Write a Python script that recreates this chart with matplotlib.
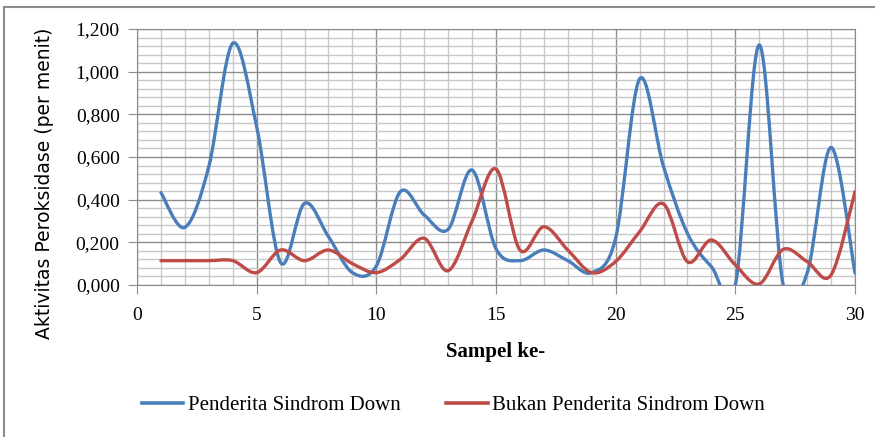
import numpy as np
import matplotlib.pyplot as plt
from matplotlib.path import Path
from matplotlib.patches import PathPatch
from matplotlib.lines import Line2D
from matplotlib.ticker import MultipleLocator, FuncFormatter

## data
sampel = list(range(1, 31))
penderita = [0.433, 0.270, 0.555, 1.133, 0.742, 0.105, 0.383, 0.227, 0.058, 0.089,
             0.437, 0.328, 0.261, 0.539, 0.170, 0.114, 0.164, 0.114, 0.058, 0.220,
             0.966, 0.555, 0.242, 0.086, 0.000, 1.125, 0.000, 0.056, 0.645, 0.056]
bukan = [0.114, 0.114, 0.114, 0.114, 0.058, 0.164, 0.114, 0.164, 0.100, 0.058,
         0.120, 0.219, 0.067, 0.300, 0.544, 0.164, 0.273, 0.164, 0.058, 0.110,
         0.250, 0.380, 0.109, 0.211, 0.094, 0.005, 0.167, 0.110, 0.047, 0.437]
labels = ['Penderita Sindrom Down', 'Bukan Penderita Sindrom Down']
colors = ['#4a7ebb', '#be4b48']


## garis halus ala excel (bezier)
def smooth_path(x, y):
    p = np.column_stack([x, y]).astype(float)
    n = len(p)
    verts = [p[0]]
    codes = [Path.MOVETO]
    for i in range(n - 1):
        p0 = p[i - 1] if i > 0 else p[i]
        p3 = p[i + 2] if i + 2 < n else p[i + 1]
        c1 = p[i] + (p[i + 1] - p0) / 6.0
        c2 = p[i + 1] - (p3 - p[i]) / 6.0
        verts += [c1, c2, p[i + 1]]
        codes += [Path.CURVE4] * 3
    return Path(verts, codes)


fig = plt.figure(figsize=(8.75, 4.37), dpi=100)
ax = fig.add_axes([137 / 875, 1 - 285 / 437, (855 - 137) / 875, (285 - 29) / 437])

for ys, c in zip([penderita, bukan], colors):
    ax.add_patch(PathPatch(smooth_path(sampel, ys), fill=False, edgecolor=c,
                           lw=2.4, capstyle='round', joinstyle='round', zorder=3))

ax.set_xlim(0, 30)
ax.set_ylim(0, 1.2)
ax.xaxis.set_major_locator(MultipleLocator(5))
ax.xaxis.set_minor_locator(MultipleLocator(1))
ax.yaxis.set_major_locator(MultipleLocator(0.2))
ax.yaxis.set_minor_locator(MultipleLocator(0.04))
ax.yaxis.set_major_formatter(FuncFormatter(lambda v, p: ('%.3f' % v).replace('.', ',')))

ax.grid(which='major', color='#8c8c8c', lw=1.0)
ax.grid(which='minor', color='#c8c8c8', lw=1.0)
ax.set_axisbelow(True)
for s in ax.spines.values():
    s.set_color('#8c8c8c')
ax.tick_params(which='major', direction='out', length=6.5, color='#8c8c8c',
               labelsize=14)
ax.tick_params(axis='y', pad=6)
ax.tick_params(axis='x', pad=9)
ax.tick_params(which='minor', length=0)
for t in ax.get_xticklabels() + ax.get_yticklabels():
    t.set_fontfamily('Liberation Serif')

ax.set_xlabel('Sampel ke-', fontfamily='Liberation Serif', fontweight='bold',
              fontsize=15, labelpad=13)
ax.set_ylabel('Aktivitas Peroksidase (per menit)', fontfamily='DejaVu Sans',
              fontsize=13.5)
ax.yaxis.set_label_coords(54 / 875, 1 - 183 / 437, transform=fig.transFigure)

handles = [Line2D([], [], color=c, lw=2.6) for c in colors]
fig.legend(handles, labels, loc='center', bbox_to_anchor=(0.518, 1 - 405 / 437), ncol=2,
           frameon=False, prop={'family': 'Liberation Serif', 'size': 15},
           handlelength=2.0, handletextpad=0.2, columnspacing=2.2)

# bingkai luar
fig.add_artist(Line2D([4 / 875, 4 / 875], [0, 1 - 7 / 437], color='#8c8c8c', lw=1.5,
                      transform=fig.transFigure))
fig.add_artist(Line2D([4 / 875, 1], [1 - 7 / 437, 1 - 7 / 437], color='#8c8c8c', lw=1.5,
                      transform=fig.transFigure))

fig.savefig('out.png', dpi=100)
